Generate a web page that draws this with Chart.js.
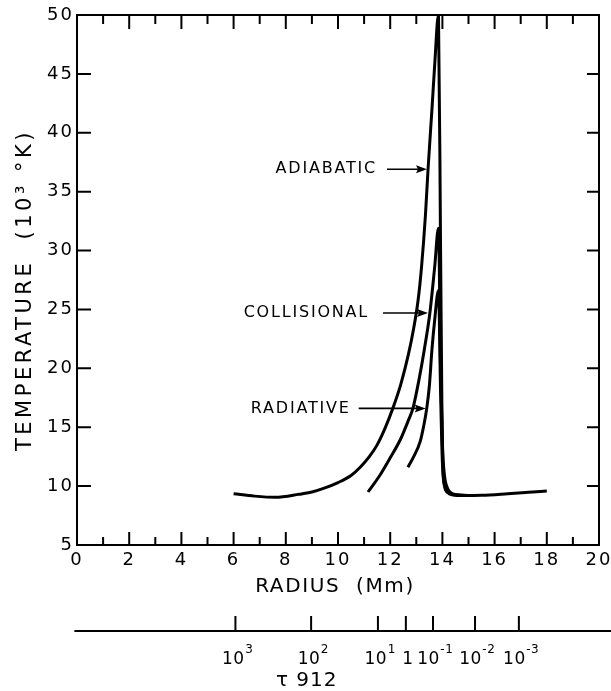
<!DOCTYPE html>
<html><head><meta charset="utf-8">
<script src="https://cdn.jsdelivr.net/npm/chart.js@4"></script>
<style>html,body{margin:0;padding:0;background:#fff}canvas{display:block}</style>
</head><body>
<canvas id="c" width="611" height="691"></canvas>
<script>
// ---- data (radius in Mm, temperature in 10^3 K) ----
const adiabaticR = [6.0, 6.8, 7.6, 8.5, 9.0, 9.5, 10.0, 10.5, 10.85, 11.2, 11.5, 11.8, 12.1, 12.4, 12.7, 12.9, 13.07, 13.2, 13.35, 13.45, 13.6, 13.7, 13.85, 13.93, 13.98, 14.02, 14.08, 14.2, 14.4, 14.8, 15.5, 16.5, 17.3, 18.0];
const adiabaticT = [9.35, 9.15, 9.05, 9.3, 9.5, 9.85, 10.3, 10.9, 11.6, 12.5, 13.5, 14.9, 16.6, 18.6, 21.2, 23.4, 25.8, 28.6, 33.0, 36.9, 42.0, 45.6, 50.0, 30.0, 17.0, 11.5, 10.0, 9.45, 9.25, 9.2, 9.22, 9.35, 9.47, 9.58];
const collisionalR = [11.15, 11.6, 12.0, 12.4, 12.7, 12.87, 13.1, 13.3, 13.52, 13.7, 13.85, 13.93, 14.0, 14.08, 14.2, 14.35, 14.6, 15.0];
const collisionalT = [9.5, 10.9, 12.4, 14.0, 15.6, 16.6, 19.0, 21.5, 24.7, 28.5, 31.9, 20.0, 13.5, 10.9, 9.8, 9.4, 9.25, 9.2];
const radiativeR = [12.68, 12.9, 13.15, 13.3, 13.4, 13.5, 13.6, 13.7, 13.85, 13.93, 14.0, 14.08, 14.2, 14.45, 15.0];
const radiativeT = [11.6, 12.5, 13.8, 15.3, 16.6, 18.5, 21.6, 24.0, 26.6, 18.0, 12.0, 10.2, 9.5, 9.28, 9.2];
// optical depth tau(912) scale: radius at which each tick falls, and its label (base, exponent)
const tauR = [6.07, 8.97, 11.53, 12.6, 13.64, 15.25, 16.93];
const tauBase = ['10', '10', '10', '1', '10', '10', '10'];
const tauExp = ['3', '2', '1', '', '-1', '-2', '-3'];
const curveNames = ['ADIABATIC', 'COLLISIONAL', 'RADIATIVE'];

const FONT = "'DejaVu Sans', sans-serif";
const toPts = (R, T) => R.map((r, i) => ({x: r, y: T[i]}));

// label annotations: arrow tip in data coords, arrow length / text gap in px
const notes = [
  {text: curveNames[0], x: 13.41, y: 36.9, len: 40, gap: 10},
  {text: curveNames[1], x: 13.45, y: 24.7, len: 45, gap: 14},
  {text: curveNames[2], x: 13.36, y: 16.6, len: 67, gap: 8}
];

function drawText(ctx, s, x, y, size, align, spacing) {
  ctx.save();
  ctx.font = size + 'px ' + FONT;
  ctx.fillStyle = '#000';
  ctx.textAlign = align;
  ctx.textBaseline = 'middle';
  if ('letterSpacing' in ctx) ctx.letterSpacing = spacing + 'px';
  ctx.fillText(s, x, y);
  ctx.restore();
}

const framePlugin = {
  id: 'frame',
  beforeDraw(chart) {
    const ctx = chart.ctx;
    ctx.save();
    ctx.fillStyle = '#fff';
    ctx.fillRect(0, 0, chart.width, chart.height);
    ctx.restore();
    if ('letterSpacing' in ctx) ctx.letterSpacing = '2px';
  },
  afterDraw(chart) {
    const ctx = chart.ctx;
    const a = chart.chartArea;
    const xs = chart.scales.x, ys = chart.scales.y, ts = chart.scales.tau;
    ctx.save();
    if ('letterSpacing' in ctx) ctx.letterSpacing = '0px';
    ctx.strokeStyle = '#000';
    ctx.lineWidth = 2;
    ctx.strokeRect(a.left, a.top, a.right - a.left, a.bottom - a.top);
    ctx.beginPath();
    for (let v = 1; v < 20; v++) {
      const px = xs.getPixelForValue(v);
      const major = v % 2 === 0;
      ctx.moveTo(px, a.bottom); ctx.lineTo(px, a.bottom - (major ? 13 : 8));
      ctx.moveTo(px, a.top); ctx.lineTo(px, a.top + (major ? 14 : 9));
    }
    for (let v = 10; v < 50; v += 5) {
      const py = ys.getPixelForValue(v);
      ctx.moveTo(a.left, py); ctx.lineTo(a.left + 14, py);
      ctx.moveTo(a.right, py); ctx.lineTo(a.right - 12, py);
    }
    ctx.stroke();
    // tau axis
    const ty = ts.top;
    ctx.beginPath();
    ctx.moveTo(xs.getPixelForValue(-0.1), ty);
    ctx.lineTo(chart.width, ty);
    tauR.forEach(r => {
      const px = xs.getPixelForValue(r);
      ctx.moveTo(px, ty); ctx.lineTo(px, ty - 15);
    });
    ctx.stroke();
    // tau labels: base + raised exponent, centred on tick
    tauR.forEach((r, i) => {
      const px = ts.getPixelForValue(r) + 2;
      ctx.save();
      ctx.fillStyle = '#000';
      ctx.textBaseline = 'alphabetic';
      ctx.textAlign = 'left';
      if ('letterSpacing' in ctx) ctx.letterSpacing = '0.5px';
      ctx.font = '17px ' + FONT;
      const bw = ctx.measureText(tauBase[i]).width;
      ctx.font = '12px ' + FONT;
      const ew = tauExp[i] ? ctx.measureText(tauExp[i]).width : 0;
      const x0 = px - (bw + ew) / 2;
      ctx.font = '17px ' + FONT;
      ctx.fillText(tauBase[i], x0, ty + 33);
      if (tauExp[i]) {
        ctx.font = '12px ' + FONT;
        ctx.fillText(tauExp[i], x0 + bw + 0.5, ty + 22);
      }
      ctx.restore();
    });
    // annotations
    notes.forEach(n => {
      const tx = xs.getPixelForValue(n.x), ty2 = ys.getPixelForValue(n.y);
      const tail = tx - n.len;
      ctx.lineWidth = 1.6;
      ctx.beginPath();
      ctx.moveTo(tail, ty2); ctx.lineTo(tx - 8, ty2);
      ctx.stroke();
      ctx.beginPath();
      ctx.moveTo(tx, ty2); ctx.lineTo(tx - 11, ty2 - 4); ctx.lineTo(tx - 9, ty2); ctx.lineTo(tx - 11, ty2 + 4);
      ctx.closePath();
      ctx.fillStyle = '#000';
      ctx.fill();
      drawText(ctx, n.text, tail - n.gap, ty2, 16, 'right', 1.8);
    });
    ctx.restore();
    // axis titles
    drawText(ctx, 'RADIUS  (Mm)', (a.left + a.right) / 2 - 3, 587, 20, 'center', 1.6);
    drawText(ctx, 'τ 912', ts.getPixelForValue(8.8), 681, 20, 'center', 1);
    ctx.save();
    ctx.translate(26, 290);
    ctx.rotate(-Math.PI / 2);
    drawText(ctx, 'TEMPERATURE  (10³ °K)', 0, 0, 21, 'center', 3.5);
    ctx.restore();
  }
};

const lineStyle = {borderColor: '#000', borderWidth: 3, pointRadius: 0, fill: false, cubicInterpolationMode: 'monotone'};
const noPad = s => { s.paddingLeft = 0; s.paddingRight = 0; s.paddingTop = 0; s.paddingBottom = 0; };

new Chart(document.getElementById('c'), {
  type: 'line',
  data: {
    datasets: [
      Object.assign({label: curveNames[0], data: toPts(adiabaticR, adiabaticT)}, lineStyle),
      Object.assign({label: curveNames[1], data: toPts(collisionalR, collisionalT)}, lineStyle),
      Object.assign({label: curveNames[2], data: toPts(radiativeR, radiativeT)}, lineStyle)
    ]
  },
  options: {
    responsive: false,
    animation: false,
    devicePixelRatio: 1,
    layout: {padding: {top: 15, right: 12, left: 0, bottom: 0}},
    plugins: {legend: {display: false}, tooltip: {enabled: false}},
    scales: {
      x: {
        type: 'linear', position: 'bottom', min: 0, max: 20, weight: 0,
        ticks: {stepSize: 2, padding: 5, color: '#000', font: {family: FONT, size: 18}, maxRotation: 0, autoSkip: false},
        grid: {display: false, drawTicks: false}, border: {display: false},
        afterFit(s) { s.height = 86; noPad(s); }
      },
      tau: {
        type: 'linear', position: 'bottom', min: 0, max: 20, weight: 1,
        afterBuildTicks(s) { s.ticks = tauR.map(v => ({value: v})); },
        ticks: {display: false},
        grid: {display: false, drawTicks: false}, border: {display: false},
        afterFit(s) { s.height = 60; noPad(s); }
      },
      y: {
        type: 'linear', position: 'left', min: 5, max: 50,
        ticks: {stepSize: 5, padding: 3, color: '#000', font: {family: FONT, size: 18}},
        grid: {display: false, drawTicks: false}, border: {display: false},
        afterFit(s) { s.width = 77; noPad(s); }
      }
    }
  },
  plugins: [framePlugin]
});
</script>
</body></html>
